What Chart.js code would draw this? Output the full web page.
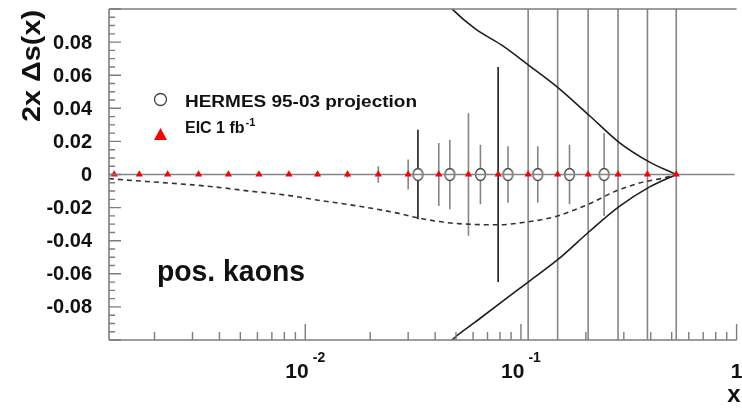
<!DOCTYPE html>
<html><head><meta charset="utf-8">
<script src="https://cdn.jsdelivr.net/npm/chart.js@4.4.0/dist/chart.umd.min.js"></script>
<style>html,body{margin:0;padding:0;background:#fff;overflow:hidden}canvas{display:block}</style>
</head><body>
<canvas id="c" width="742" height="411"></canvas>
<script>
// ---- axis ranges ----
const xMin = 0.00123, xMax = 0.98;
const yMin = -0.1, yMax = 0.1;

// ---- EIC 1 fb^-1 projection (red triangles) ----
const eicX   = [0.0013, 0.0017, 0.0023, 0.0032, 0.0044, 0.0061, 0.0084, 0.0114, 0.0157, 0.0218, 0.030, 0.0416, 0.0571, 0.0784, 0.108, 0.148, 0.205, 0.282, 0.386, 0.525];
const eicY   = [0, 0, 0, 0, 0, 0, 0, 0, 0, 0, 0, 0, 0, 0, 0, 0, 0, 0, 0, 0];
const eicErr = [0.0005, 0.0005, 0.0005, 0.0006, 0.0006, 0.0007, 0.0008, 0.001, 0.002, 0.005, 0.009, 0.019, 0.037, 0.065, 0.15, 0.22, 0.3, 0.45, 0.7, 1.2];
const eicErrDark = [false, false, false, false, false, false, false, false, false, false, false, false, false, true, false, false, false, false, false, false];

// ---- HERMES 95-03 projection (open circles) ----
const hermesX   = [0.0333, 0.0468, 0.0649, 0.0871, 0.1197, 0.168, 0.243];
const hermesY   = [0, 0, 0, 0, 0, 0, 0];
const hermesErr = [0.027, 0.021, 0.018, 0.017, 0.017, 0.018, 0.025];
const hermesErrDark = [true, false, false, false, false, false, false];

// ---- dashed central curve ----
const dashX = [0.00123, 0.0015, 0.0023, 0.0038, 0.0054, 0.008, 0.0113, 0.0187, 0.0264, 0.0333, 0.0448, 0.0565, 0.078, 0.1076, 0.143, 0.177, 0.212, 0.27, 0.358, 0.46, 0.525];
const dashY = [-0.0025, -0.0034, -0.0051, -0.0075, -0.0099, -0.0123, -0.0154, -0.0196, -0.0232, -0.0262, -0.029, -0.030, -0.0304, -0.0286, -0.0256, -0.0214, -0.0172, -0.0105, -0.005, -0.0021, 0];

// ---- upper / lower solid band curves ----
const upX = [0.040, 0.0483, 0.0615, 0.0818, 0.1088, 0.148, 0.207, 0.284, 0.395, 0.525];
const upY = [0.112, 0.0996, 0.088, 0.078, 0.066, 0.0527, 0.0358, 0.0196, 0.0075, 0];
const loX = [0.040, 0.0483, 0.0615, 0.0818, 0.1088, 0.148, 0.207, 0.284, 0.395, 0.525];
const loY = [-0.112, -0.0996, -0.0891, -0.0768, -0.0647, -0.0515, -0.0346, -0.0196, -0.0075, 0];

// ---- zero line ----
const zeroX = [xMin, xMax];
const zeroY = [0, 0];

// ---- tick labels ----
const yTickValues = [0.08, 0.06, 0.04, 0.02, 0, -0.02, -0.04, -0.06, -0.08];
const yTickLabels = ["0.08", "0.06", "0.04", "0.02", "0", "-0.02", "-0.04", "-0.06", "-0.08"];
const xTickValues = [0.01, 0.1, 1];
const xTickBase   = ["10", "10", "1"];
const xTickExp    = ["-2", "-1", ""];

const pts = (xs, ys) => xs.map((x, i) => ({x: x, y: ys[i]}));
const FONT = '"Liberation Sans", Arial, Helvetica, sans-serif';

// open elliptical marker like the reference
const ellipseMarker = (() => {
  const c = document.createElement('canvas');
  c.width = 13; c.height = 15;
  const g = c.getContext('2d');
  g.fillStyle = '#fff'; g.strokeStyle = '#4a4a4a'; g.lineWidth = 1.3;
  g.beginPath(); g.ellipse(6.5, 7.5, 4.9, 6.0, 0, 0, Math.PI * 2); g.fill(); g.stroke();
  return c;
})();

function fitText(ctx, text, x, y, width) {
  const w = ctx.measureText(text).width;
  ctx.save();
  ctx.translate(x, y);
  ctx.scale(width / w, 1);
  ctx.textAlign = 'left';
  ctx.fillText(text, 0, 0);
  ctx.restore();
}

const errorBars = {
  id: 'errorBars',
  beforeDatasetsDraw(chart) {
    const {ctx, chartArea: a, scales: {x, y}} = chart;
    ctx.save();
    ctx.beginPath(); ctx.rect(a.left, a.top, a.right - a.left, a.bottom - a.top); ctx.clip();
    ctx.lineWidth = 1.6;
    const draw = (xs, ys, es, dark) => {
      xs.forEach((xv, i) => {
        const px = x.getPixelForValue(xv);
        ctx.strokeStyle = dark[i] ? '#1a1a1a' : '#858585';
        ctx.beginPath();
        ctx.moveTo(px, y.getPixelForValue(ys[i] - es[i]));
        ctx.lineTo(px, y.getPixelForValue(ys[i] + es[i]));
        ctx.stroke();
      });
    };
    draw(eicX, eicY, eicErr, eicErrDark);
    draw(hermesX, hermesY, hermesErr, hermesErrDark);
    ctx.restore();
  }
};

const rootFrame = {
  id: 'rootFrame',
  afterDatasetsDraw(chart) {
    const {ctx, chartArea: a, scales: {x, y}} = chart;
    ctx.save();
    ctx.strokeStyle = '#7d7d7d';
    ctx.lineWidth = 1.6;
    const right = x.getPixelForValue(1);
    // frame
    ctx.beginPath();
    ctx.moveTo(a.left, a.top); ctx.lineTo(right, a.top);
    ctx.moveTo(a.left, a.top); ctx.lineTo(a.left, a.bottom);
    ctx.moveTo(a.left, a.bottom); ctx.lineTo(right, a.bottom);
    ctx.stroke();
    // y ticks (inside)
    ctx.lineWidth = 1.4;
    ctx.beginPath();
    for (let i = -20; i <= 20; i++) {
      const v = i * 0.005;
      const py = y.getPixelForValue(v);
      const len = (i % 4 === 0) ? 12 : 6;
      ctx.moveTo(a.left, py); ctx.lineTo(a.left + len, py);
    }
    // x ticks (inside)
    for (let n = -3; n <= 0; n++) {
      for (let k = 1; k <= 9; k++) {
        const v = k * Math.pow(10, n);
        if (v < xMin || v > 1.0001) continue;
        const px = x.getPixelForValue(v);
        const len = (k === 1) ? 16 : 8;
        ctx.moveTo(px, a.bottom); ctx.lineTo(px, a.bottom - len);
      }
    }
    ctx.stroke();

    ctx.fillStyle = '#111';
    // y tick labels
    ctx.font = 'bold 20px ' + FONT;
    ctx.textAlign = 'right'; ctx.textBaseline = 'middle';
    yTickValues.forEach((v, i) => ctx.fillText(yTickLabels[i], 92, y.getPixelForValue(v) + 1));
    // x tick labels
    ctx.textBaseline = 'alphabetic';
    xTickValues.forEach((v, i) => {
      const px = x.getPixelForValue(v);
      ctx.font = 'bold 21px ' + FONT;
      const w1 = ctx.measureText(xTickBase[i]).width;
      ctx.font = 'bold 14px ' + FONT;
      const w2 = xTickExp[i] ? ctx.measureText(xTickExp[i]).width + 4 : 0;
      const start = px - (w1 + w2) / 2;
      ctx.textAlign = 'left';
      ctx.font = 'bold 21px ' + FONT;
      ctx.fillText(xTickBase[i], start, 378);
      if (xTickExp[i]) {
        ctx.font = 'bold 14px ' + FONT;
        ctx.fillText(xTickExp[i], start + w1 + 4, 362);
      }
    });
    // axis titles
    ctx.font = 'bold 24px ' + FONT;
    ctx.textAlign = 'center';
    ctx.fillText('x', 734, 402);
    ctx.save();
    ctx.translate(40, 122);
    ctx.rotate(-Math.PI / 2);
    ctx.font = 'bold 25px ' + FONT;
    fitText(ctx, '2x \u0394s(x)', 0, 0, 112);
    ctx.restore();

    // legend
    ctx.strokeStyle = '#444'; ctx.lineWidth = 1.3; ctx.fillStyle = '#fff';
    ctx.beginPath(); ctx.arc(160.5, 99.5, 6, 0, Math.PI * 2); ctx.fill(); ctx.stroke();
    ctx.fillStyle = '#ff0000';
    ctx.beginPath(); ctx.moveTo(160.5, 128); ctx.lineTo(167, 140); ctx.lineTo(154, 140); ctx.closePath(); ctx.fill();
    ctx.fillStyle = '#111';
    ctx.font = 'bold 16px ' + FONT;
    fitText(ctx, 'HERMES 95-03 projection', 185, 107, 232);
    ctx.textAlign = 'left';
    ctx.fillText('EIC 1 fb', 185, 133);
    const wEic = ctx.measureText('EIC 1 fb').width;
    ctx.font = 'bold 11px ' + FONT;
    ctx.fillText('-1', 185 + wEic + 1, 126);

    // annotation
    ctx.font = 'bold 29px ' + FONT;
    fitText(ctx, 'pos. kaons', 157, 281, 148);
    ctx.restore();
  }
};

new Chart(document.getElementById('c'), {
  type: 'line',
  data: {
    datasets: [
      { label: 'EIC 1 fb-1', data: pts(eicX, eicY), showLine: false, pointStyle: 'triangle',
        pointRadius: 4.2, backgroundColor: '#ff0000', borderColor: '#ff0000', pointBorderWidth: 0, order: 0 },
      { label: 'zero', data: pts(zeroX, zeroY), borderColor: '#858585', borderWidth: 1.6, pointRadius: 0, order: 1 },
      { label: 'HERMES 95-03 projection', data: pts(hermesX, hermesY), showLine: false, pointStyle: ellipseMarker,
        pointRadius: 6, backgroundColor: '#ffffff', borderColor: '#4a4a4a', pointBorderWidth: 1.3, order: 2 },
      { label: 'central', data: pts(dashX, dashY), borderColor: '#333', borderWidth: 1.6, borderDash: [5, 4],
        pointRadius: 0, cubicInterpolationMode: 'monotone', order: 3 },
      { label: 'upper', data: pts(upX, upY), borderColor: '#1e1e1e', borderWidth: 1.6,
        pointRadius: 0, cubicInterpolationMode: 'monotone', clip: 0, order: 3 },
      { label: 'lower', data: pts(loX, loY), borderColor: '#1e1e1e', borderWidth: 1.6,
        pointRadius: 0, cubicInterpolationMode: 'monotone', clip: 0, order: 3 }
    ]
  },
  options: {
    responsive: false,
    devicePixelRatio: 1,
    animation: false,
    layout: { padding: { left: 109, top: 9, right: 0, bottom: 71 } },
    scales: {
      x: { type: 'logarithmic', min: xMin, max: xMax, display: false },
      y: { type: 'linear', min: yMin, max: yMax, display: false }
    },
    plugins: { legend: { display: false }, tooltip: { enabled: false } }
  },
  plugins: [errorBars, rootFrame]
});
</script>
</body></html>
